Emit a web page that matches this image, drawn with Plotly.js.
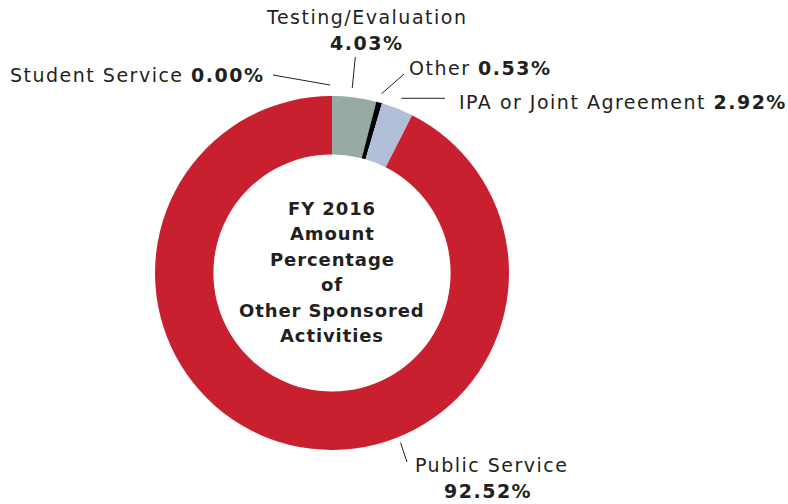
<!DOCTYPE html>
<html><head><meta charset="utf-8">
<script src="https://cdn.plot.ly/plotly-3.0.1.min.js"></script>
<style>html,body{margin:0;padding:0;background:#fff}#chart{width:788px;height:504px}
.annotation-text{letter-spacing:1.5px}</style>
</head><body><div id="chart"></div>
<script>
const categories = ["Testing/Evaluation", "Other", "IPA or Joint Agreement", "Public Service", "Student Service"];
const values = [4.03, 0.53, 2.92, 92.52, 0.00];
const labelsPct = ["4.03%", "0.53%", "2.92%", "92.52%", "0.00%"];
const colors = ["#97aba4", "#000000", "#b2bfd8", "#c8202f", "#c8202f"];
const centerTitle = ["FY 2016", "Amount", "Percentage", "of", "Other Sponsored", "Activities"];

const W = 788, H = 504;
const CX = 332, CY = 273, R = 177, HOLE = 0.67;
const px = (x, y) => ({x: x / W, y: 1 - y / H});
const FONT = "DejaVu Sans, Noto Sans, sans-serif";

const total = values.reduce((a, b) => a + b, 0);
let cum = 0;
const midAngles = values.map(v => { const m = (cum + v / 2) / total * 360; cum += v; return m; });
function polar(angDeg, r) {
  const a = angDeg * Math.PI / 180;
  return [CX + r * Math.sin(a), CY - r * Math.cos(a)];
}

const trace = {
  type: "pie",
  labels: categories,
  values: values,
  hole: HOLE,
  sort: false,
  direction: "clockwise",
  rotation: 0,
  textinfo: "none",
  hoverinfo: "label+percent",
  marker: {colors: colors, line: {width: 0}},
  showlegend: false,
  domain: {x: [(CX - R) / W, (CX + R) / W], y: [1 - (CY + R) / H, 1 - (CY - R) / H]}
};

const annotations = [];
const shapes = [];
function addText(x, y, html, anchor, size) {
  const p = px(x, y);
  annotations.push({xref: "paper", yref: "paper", x: p.x, y: p.y, text: html, showarrow: false,
    xanchor: anchor || "left", yanchor: "middle", font: {family: FONT, size: size || 19, color: "#231f20"}});
}
function addLine(x0, y0, x1, y1) {
  const a = px(x0, y0), b = px(x1, y1);
  shapes.push({type: "line", xref: "paper", yref: "paper", x0: a.x, y0: a.y, x1: b.x, y1: b.y,
    line: {color: "#231f20", width: 1}});
}

// Testing/Evaluation
addText(366, 17, categories[0], "center");
addText(366, 43, "<b>" + labelsPct[0] + "</b>", "center");
let p = polar(midAngles[0] - 1, 186); addLine(p[0], p[1], p[0] + 3, 57);
// Other
addText(407, 68, categories[1] + " <b>" + labelsPct[1] + "</b>", "left");
p = polar(midAngles[1], 186); addLine(p[0], p[1], 404, 74);
// IPA
addText(457, 102, categories[2] + " <b>" + labelsPct[2] + "</b>", "left");
p = polar(midAngles[2], 188); addLine(p[0], p[1], 445, p[1]);
// Student Service
addText(8, 75, categories[4] + " <b>" + labelsPct[4] + "</b>", "left");
p = polar(midAngles[4], 188); addLine(p[0] - 2, p[1], 273, 75);
// Public Service
addText(413, 465, categories[3], "left");
addText(488, 491, "<b>" + labelsPct[3] + "</b>", "center");
p = polar(158, 183); addLine(p[0], p[1], 407, 462);

// Center title, one line each
const lineY = [208, 233.5, 259, 284.5, 310, 335.5];
centerTitle.forEach((t, i) => addText(CX, lineY[i], "<span style='letter-spacing:0.9px'><b>" + t + "</b></span>", "center", 18));

Plotly.newPlot("chart", [trace], {
  width: W, height: H, margin: {l: 0, r: 0, t: 0, b: 0},
  paper_bgcolor: "#ffffff", plot_bgcolor: "#ffffff",
  annotations: annotations, shapes: shapes, showlegend: false
}, {displayModeBar: false, staticPlot: true});
</script></body></html>
